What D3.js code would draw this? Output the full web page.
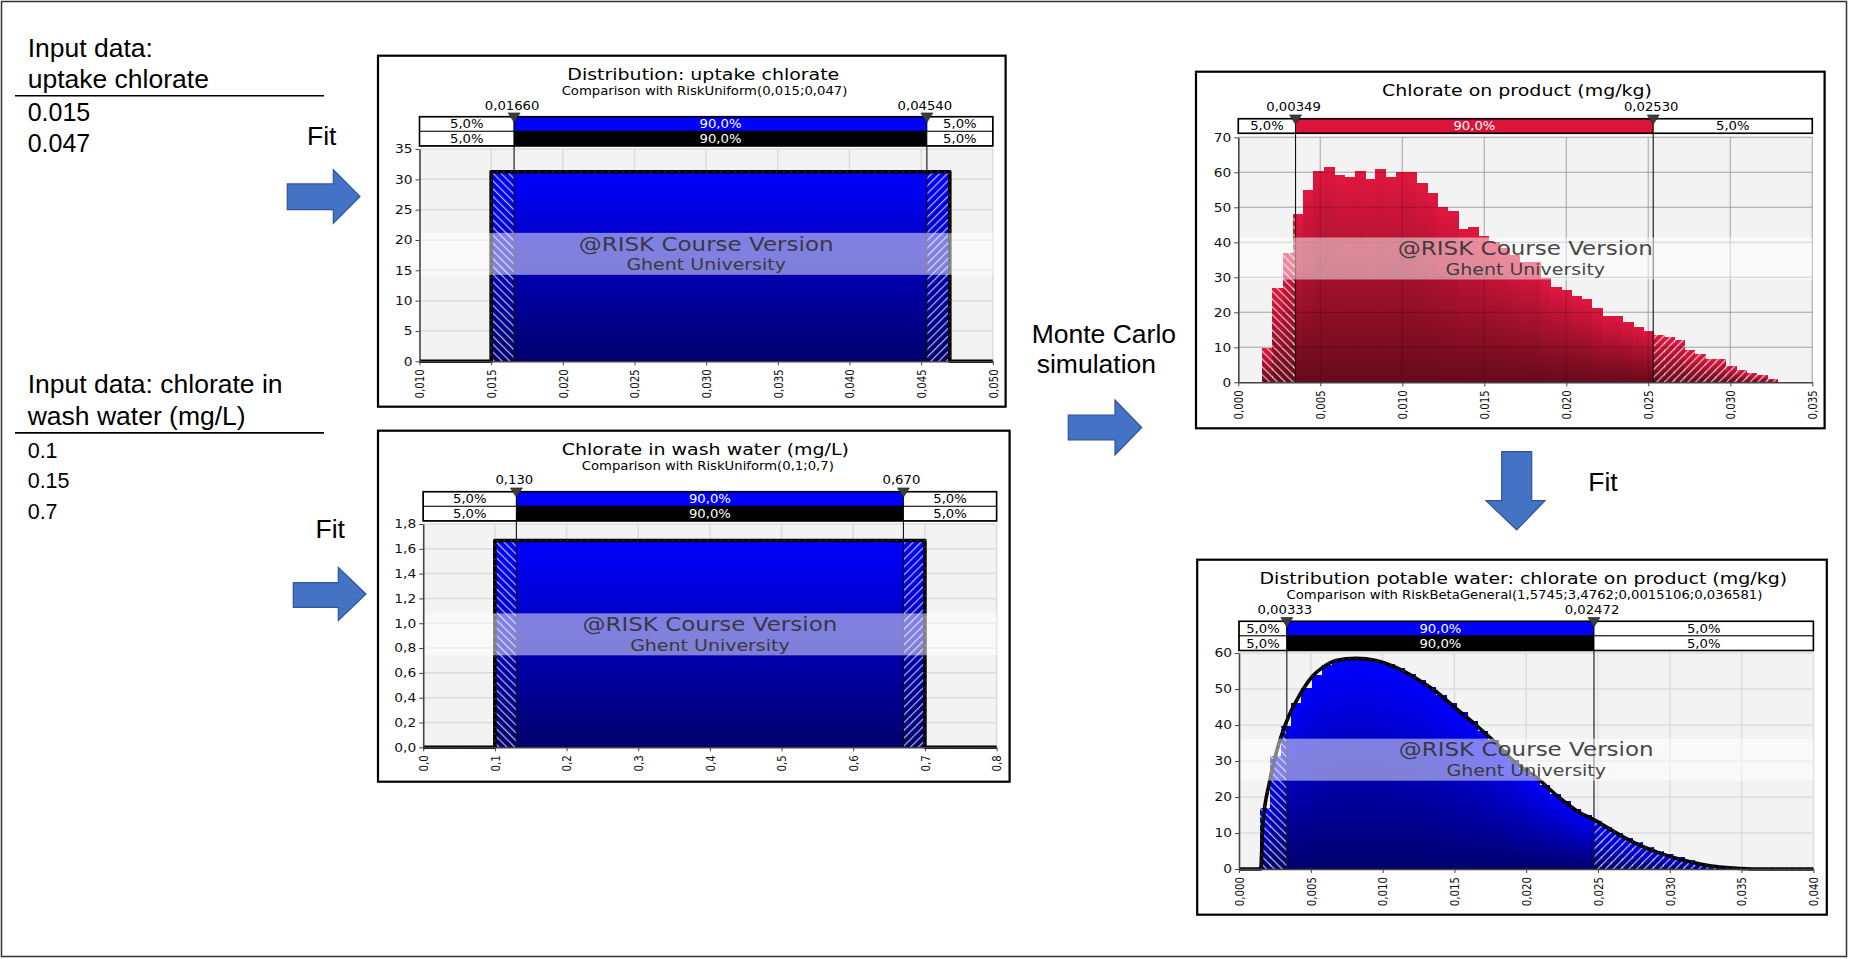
<!DOCTYPE html>
<html><head><meta charset="utf-8">
<script src="https://cdn.jsdelivr.net/npm/d3@7"></script>
<style>body{margin:0;background:#fff}svg{display:block}</style>
</head><body>
<svg id="c" width="1849" height="959"></svg>
<script>
// ================= DATA =================
// Panel 1: uptake chlorate (uniform fit)
const uptakeHist = [{x0:0.015, x1:0.047, y:31.3}];
const uptakeFit = [[0.010,0],[0.015,0],[0.015,31.25],[0.047,31.25],[0.047,0],[0.050,0]];
const uptakeMarkers = [0.0166, 0.0454];
const uptakeMarkerLabels = ["0,01660","0,04540"];
const uptakeXTicks = [0.010,0.015,0.020,0.025,0.030,0.035,0.040,0.045,0.050];
const uptakeXLabels = ["0,010","0,015","0,020","0,025","0,030","0,035","0,040","0,045","0,050"];
const uptakeYTicks = [0,5,10,15,20,25,30,35];
const uptakeYLabels = ["0","5","10","15","20","25","30","35"];

// Panel 2: chlorate in wash water (uniform fit)
const washHist = [{x0:0.1, x1:0.7, y:1.67}];
const washFit = [[0,0],[0.1,0],[0.1,1.667],[0.7,1.667],[0.7,0],[0.8,0]];
const washMarkers = [0.130, 0.670];
const washMarkerLabels = ["0,130","0,670"];
const washXTicks = [0,0.1,0.2,0.3,0.4,0.5,0.6,0.7,0.8];
const washXLabels = ["0,0","0,1","0,2","0,3","0,4","0,5","0,6","0,7","0,8"];
const washYTicks = [0,0.2,0.4,0.6,0.8,1.0,1.2,1.4,1.6,1.8];
const washYLabels = ["0,0","0,2","0,4","0,6","0,8","1,0","1,2","1,4","1,6","1,8"];

// Panel 3: chlorate on product (simulated histogram)
const productBinStart = 0.001445;
const productBinWidth = 0.000628;
const productHeights = [9.7,26.9,36.9,48,54.9,60.4,61.4,59.2,58.6,60.4,58.1,60.9,58.7,60,60,57,54.2,50.1,49,43.7,
  44.5,41.7,40.2,38.5,36.3,34.3,34.3,29.7,27.3,26.4,24.7,23.7,21.1,18.9,18.9,17.2,15.8,14.7,13.5,12.9,
  12.1,9.2,8,6.7,6.7,4.7,3.5,2.7,2,0.9];
const productMarkers = [0.00349, 0.02530];
const productMarkerLabels = ["0,00349","0,02530"];
const productXTicks = [0,0.005,0.010,0.015,0.020,0.025,0.030,0.035];
const productXLabels = ["0,000","0,005","0,010","0,015","0,020","0,025","0,030","0,035"];
const productYTicks = [0,10,20,30,40,50,60,70];
const productYLabels = ["0","10","20","30","40","50","60","70"];

// Panel 4: potable water fit (BetaGeneral)
const potableBinStart = 0.00145;
const potableBinWidth = 0.00072;
const potableHeights = [16.9,31.3,39.8,46.1,50.4,54,56.6,58,58.4,58.6,58.3,57.8,57,55.7,54.2,52.5,50.5,48.4,46,43.5,
  41,38.3,35.9,33,30.2,27.8,25.8,23.3,20.8,18.8,16.8,15,13.3,11.6,10.1,8.7,7.4,6.2,5.1,4.1,
  3.2,2.4,1.7,1.2,0.75,0.4,0.18,0.06,0.01];
const potableFit = [[0,0],[0.00151,0],[0.00165,11.9],[0.00211,23.9],[0.00258,32.1],[0.00304,38.1],[0.0035,42.8],
  [0.00397,46.5],[0.00444,49.8],[0.00513,53.6],[0.00583,56],[0.00675,57.9],[0.00815,58.5],[0.00954,57.9],
  [0.01093,56],[0.01233,53],[0.01372,49.3],[0.01511,44.6],[0.0165,40],[0.01767,35.8],[0.01929,29.4],
  [0.02068,25.5],[0.0222,20.2],[0.0236,16],[0.0248,13.5],[0.0265,9.5],[0.0279,6.6],[0.0293,4.4],
  [0.0307,2.7],[0.0321,1.4],[0.0335,0.56],[0.0349,0.15],[0.03658,0],[0.040,0]];
const potableMarkers = [0.00333, 0.02472];
const potableMarkerLabels = ["0,00333","0,02472"];
const potableXTicks = [0,0.005,0.010,0.015,0.020,0.025,0.030,0.035,0.040];
const potableXLabels = ["0,000","0,005","0,010","0,015","0,020","0,025","0,030","0,035","0,040"];
const potableYTicks = [0,10,20,30,40,50,60];
const potableYLabels = ["0","10","20","30","40","50","60"];

const rowLabels = ["5,0%","90,0%","5,0%"];

// ================= DRAWING =================
const SX = 1.15;
const FONT = "DejaVu Sans";
const svg = d3.select("#c");
svg.append("rect").attr("width",1849).attr("height",959).attr("fill","#fff");
const defs = svg.append("defs");

function vgrad(id, top, bottom){
  const lg = defs.append("linearGradient").attr("id",id).attr("x1",0).attr("y1",0).attr("x2",0).attr("y2",1);
  lg.append("stop").attr("offset","0%").attr("stop-color",top);
  lg.append("stop").attr("offset","100%").attr("stop-color",bottom);
}
vgrad("gBlue","#0000ff","#00006c");
vgrad("gRed","#e0173f","#660a1b");
function hatch(id, angle){
  const p = defs.append("pattern").attr("id",id).attr("patternUnits","userSpaceOnUse")
    .attr("width",5.5).attr("height",5.5).attr("patternTransform",`rotate(${angle})`);
  p.append("rect").attr("x",0).attr("y",0).attr("width",1.2).attr("height",5.5)
    .attr("fill","#fff").attr("fill-opacity",0.72);
}
hatch("hL",-45); hatch("hR",45);

function stext(g, x, y, str, size, o={}){
  return g.append("text")
    .attr("transform",`translate(${x},${y}) scale(${o.sx||SX},1)` + (o.rot?` rotate(${o.rot})`:""))
    .attr("font-family",o.family||FONT).attr("font-size",size)
    .attr("text-anchor",o.anchor||"middle").attr("fill",o.fill||"#000")
    .attr("fill-opacity",o.op==null?1:o.op)
    .text(str);
}

function binsFrom(start, width, heights){
  return heights.map((h,i)=>({x0:start+i*width, x1:start+(i+1)*width, y:h}));
}

function panel(c){
  const g = svg.append("g");
  const [fx0,fy0,fx1,fy1] = c.frame;
  g.append("rect").attr("x",fx0).attr("y",fy0).attr("width",fx1-fx0).attr("height",fy1-fy0)
    .attr("fill","#fff").attr("stroke","#000").attr("stroke-width",2.2);
  const P = c.plot;
  const x = d3.scaleLinear().domain(c.xDomain).range([P.left,P.right]);
  const y = d3.scaleLinear().domain(c.yDomain).range([P.bottom,P.top]);

  g.append("rect").attr("x",P.left).attr("y",P.top).attr("width",P.right-P.left).attr("height",P.bottom-P.top)
    .attr("fill","#f3f3f3");
  function grid(color, width){
    const gg = g.append("g").attr("stroke",color).attr("stroke-width",width);
    gg.selectAll("line.gx").data(c.xTicks.slice(1)).join("line").attr("class","gx")
      .attr("x1",d=>x(d)).attr("x2",d=>x(d)).attr("y1",P.top).attr("y2",P.bottom);
    gg.selectAll("line.gy").data(c.yTicks.slice(1)).join("line").attr("class","gy")
      .attr("x1",P.left).attr("x2",P.right).attr("y1",d=>y(d)).attr("y2",d=>y(d));
  }
  grid("#dcdcdc",1.5);

  // bars
  const barSel = (sel, fill) => sel.attr("shape-rendering","crispEdges").selectAll("rect").data(c.bins).join("rect")
    .attr("x",d=>x(d.x0)).attr("width",d=>x(d.x1)-x(d.x0)+0.9)
    .attr("y",d=>y(d.y)).attr("height",d=>y(0)-y(d.y)).attr("fill",fill);
  barSel(g.append("g"), `url(#${c.grad})`);
  const m0 = x(c.markers[0]), m1 = x(c.markers[1]);
  defs.append("clipPath").attr("id",c.id+"L").append("rect")
    .attr("x",P.left).attr("y",P.top-5).attr("width",m0-P.left).attr("height",P.bottom-P.top+5);
  defs.append("clipPath").attr("id",c.id+"R").append("rect")
    .attr("x",m1).attr("y",P.top-5).attr("width",P.right-m1).attr("height",P.bottom-P.top+5);
  barSel(g.append("g").attr("clip-path",`url(#${c.id}L)`), "url(#hL)");
  barSel(g.append("g").attr("clip-path",`url(#${c.id}R)`), "url(#hR)");

  if(c.gridOver) grid("rgba(0,0,0,0.16)",1.3);

  // fit curve
  if(c.fit){
    const line = d3.line().x(d=>x(d[0])).y(d=>y(d[1])).curve(c.smooth?d3.curveMonotoneX:d3.curveLinear);
    g.append("path").attr("d",line(c.fit)).attr("fill","none").attr("stroke","#000")
      .attr("stroke-width",3.6).attr("stroke-linejoin","round");
    g.append("path").attr("d",line(c.fit)).attr("fill","none").attr("stroke","#777")
      .attr("stroke-opacity",0.55).attr("stroke-width",0.9).attr("stroke-dasharray","2,5");
  }

  // marker lines
  [m0,m1].forEach(mx=>{
    g.append("line").attr("x1",mx).attr("x2",mx).attr("y1",c.rowTop).attr("y2",P.bottom)
      .attr("stroke","#111").attr("stroke-width",1.1);
  });

  // watermark
  const bt = (P.top+P.bottom)/2 - 1.3 - 21;
  g.append("rect").attr("x",P.left).attr("y",bt).attr("width",P.right-P.left).attr("height",42)
    .attr("fill","#fff").attr("fill-opacity",0.5);
  const cx = (P.left+P.right)/2;
  stext(g, cx, bt+17.7, "@RISK Course Version", 20, {fill:"#2e2e2e", op:0.9});
  stext(g, cx, bt+37.3, "Ghent University", 16.5, {fill:"#2e2e2e", op:0.9});

  // axes
  const ya = g.append("g").attr("transform",`translate(${P.left},0)`)
    .call(d3.axisLeft(y).tickValues(c.yTicks).tickFormat((d,i)=>c.yLabels[i]).tickSize(4).tickPadding(3).tickSizeOuter(0));
  ya.attr("font-family",FONT).attr("font-size",12).attr("color","#444");
  ya.select(".domain").attr("stroke-width",1.6);
  ya.selectAll(".tick text").each(function(){
    const t = d3.select(this); const xx = t.attr("x");
    t.attr("x",0).attr("transform",`translate(${xx},0) scale(${SX},1)`).attr("fill","#111");
  });
  const xa = g.append("g").attr("transform",`translate(0,${P.bottom})`)
    .call(d3.axisBottom(x).tickValues(c.xTicks).tickFormat((d,i)=>c.xLabels[i]).tickSize(4).tickPadding(4).tickSizeOuter(0));
  xa.attr("font-family",FONT).attr("font-size",10.2).attr("color","#444");
  xa.select(".domain").attr("stroke-width",1.6);
  xa.selectAll(".tick text").each(function(){
    const t = d3.select(this);
    t.attr("x",0).attr("y",0).attr("dy","0.36em").attr("text-anchor","end")
      .attr("transform",`translate(0,8) scale(${SX},1) rotate(-90)`).attr("fill","#111");
  });

  // titles
  stext(g, c.title.x, c.title.y, c.title.text, 16.5);
  if(c.subtitle) stext(g, c.subtitle.x, c.subtitle.y, c.subtitle.text, 11.5);

  // percentage rows
  c.rows.forEach((r,ri)=>{
    const top = c.rowTop + ri*c.rowH;
    const cells = [[P.left,m0,"#fff","#000"],[m0,m1,r,"#fff"],[m1,P.right,"#fff","#000"]];
    cells.forEach((cl,k)=>{
      g.append("rect").attr("x",cl[0]).attr("y",top).attr("width",cl[1]-cl[0]).attr("height",c.rowH)
        .attr("fill",cl[2]).attr("stroke","#000").attr("stroke-width",0.9);
      stext(g,(cl[0]+cl[1])/2, top+c.rowH/2+4.3, rowLabels[k], 11.5, {fill:cl[3]});
    });
  });
  g.append("rect").attr("x",P.left).attr("y",c.rowTop).attr("width",P.right-P.left)
    .attr("height",c.rows.length*c.rowH).attr("fill","none").attr("stroke","#000").attr("stroke-width",1.6);

  // marker triangles and labels
  [m0,m1].forEach((mx,k)=>{
    g.append("path").attr("d",`M${mx-6},${c.rowTop-3.8}L${mx+6},${c.rowTop-3.8}L${mx},${c.rowTop+5.6}Z`)
      .attr("fill","#3c3c3c").attr("stroke","#222").attr("stroke-width",0.6);
    stext(g, mx-2, c.markerLabelY, c.markerLabels[k], 11.5);
  });
}

panel({id:"p1", frame:[378,55.7,1005.6,406.7], plot:{left:419.5,right:992.8,top:149,bottom:361.3},
  xDomain:[0.010,0.050], yDomain:[0,35], xTicks:uptakeXTicks, xLabels:uptakeXLabels,
  yTicks:uptakeYTicks, yLabels:uptakeYLabels, bins:uptakeHist, fit:uptakeFit, smooth:false,
  markers:uptakeMarkers, markerLabels:uptakeMarkerLabels, grad:"gBlue",
  rows:["#0000ff","#000000"], rowTop:116.7, rowH:14.6, markerLabelY:109.5,
  title:{text:"Distribution: uptake chlorate", x:703.3, y:80},
  subtitle:{text:"Comparison with RiskUniform(0,015;0,047)", x:704.5, y:94.7}});

panel({id:"p2", frame:[378,430.7,1009.6,781.7], plot:{left:423.2,right:996.6,top:524,bottom:747.3},
  xDomain:[0,0.8], yDomain:[0,1.8], xTicks:washXTicks, xLabels:washXLabels,
  yTicks:washYTicks, yLabels:washYLabels, bins:washHist, fit:washFit, smooth:false,
  markers:washMarkers, markerLabels:washMarkerLabels, grad:"gBlue",
  rows:["#0000ff","#000000"], rowTop:491.7, rowH:14.6, markerLabelY:484.3,
  title:{text:"Chlorate in wash water (mg/L)", x:705.3, y:455},
  subtitle:{text:"Comparison with RiskUniform(0,1;0,7)", x:707.8, y:469.7}});

panel({id:"p3", frame:[1196,71.7,1824.6,428.3], plot:{left:1238.3,right:1812.3,top:137.3,bottom:382.3},
  xDomain:[0,0.035], yDomain:[0,70], xTicks:productXTicks, xLabels:productXLabels,
  yTicks:productYTicks, yLabels:productYLabels, bins:binsFrom(productBinStart,productBinWidth,productHeights),
  fit:null, markers:productMarkers, markerLabels:productMarkerLabels, grad:"gRed", gridOver:true,
  rows:["#dc143c"], rowTop:118.7, rowH:14.6, markerLabelY:110.9,
  title:{text:"Chlorate on product (mg/kg)", x:1517, y:96}});

panel({id:"p4", frame:[1197.2,559.7,1826.8,914.7], plot:{left:1239,right:1813.4,top:653,bottom:869},
  xDomain:[0,0.040], yDomain:[0,60], xTicks:potableXTicks, xLabels:potableXLabels,
  yTicks:potableYTicks, yLabels:potableYLabels, bins:binsFrom(potableBinStart,potableBinWidth,potableHeights),
  fit:potableFit, smooth:true, markers:potableMarkers, markerLabels:potableMarkerLabels, grad:"gBlue",
  rows:["#0000ff","#000000"], rowTop:621.3, rowH:14.6, markerLabelY:613.5,
  title:{text:"Distribution potable water: chlorate on product (mg/kg)", x:1523.3, y:584},
  subtitle:{text:"Comparison with RiskBetaGeneral(1,5745;3,4762;0,0015106;0,036581)", x:1524.5, y:598.7}});

// ================= LEFT TEXT, ARROWS =================
const L = svg.append("g").attr("font-family","Liberation Sans, Arial, sans-serif").attr("fill","#000");
function ltext(x,y,str,size){ L.append("text").attr("x",x).attr("y",y).attr("font-size",size).text(str); }
ltext(27.7,57.1,"Input data:",26.5);
ltext(27.7,87.5,"uptake chlorate",26.5);
L.append("line").attr("x1",15).attr("x2",324).attr("y1",95.7).attr("y2",95.7).attr("stroke","#000").attr("stroke-width",1.6);
ltext(27.7,121.4,"0.015",25);
ltext(27.7,151.8,"0.047",25);
ltext(307,144.6,"Fit",26.5);
ltext(27.7,392.9,"Input data: chlorate in",26.5);
ltext(27.7,425,"wash water (mg/L)",26.5);
L.append("line").attr("x1",15).attr("x2",324).attr("y1",432.9).attr("y2",432.9).attr("stroke","#000").attr("stroke-width",1.6);
ltext(27.7,457.9,"0.1",21.5);
ltext(27.7,488.2,"0.15",21.5);
ltext(27.7,518.6,"0.7",21.5);
ltext(315.5,537.5,"Fit",26.5);
ltext(1031.7,343.3,"Monte Carlo",26.5);
ltext(1036.7,373.3,"simulation",26.5);
ltext(1588.3,491,"Fit",26.5);

function arrowR(x0,xh,xt,sy0,sy1,hy0,hy1){
  const ty=(hy0+hy1)/2;
  svg.append("path").attr("d",`M${x0},${sy0}L${xh},${sy0}L${xh},${hy0}L${xt},${ty}L${xh},${hy1}L${xh},${sy1}L${x0},${sy1}Z`)
    .attr("fill","#4472c4").attr("stroke","#2f5597").attr("stroke-width",1.2);
}
arrowR(287.3,333.3,360,183.9,209.6,169.6,223.2);
arrowR(293.3,338.3,366,582.7,607.3,567.3,620.7);
arrowR(1068.3,1115,1141.7,415,440,400,455);
// down arrow
svg.append("path").attr("d",`M1501.7,451.7L1531.7,451.7L1531.7,500.7L1545,500.7L1516.7,530L1486,500.7L1501.7,500.7Z`)
  .attr("fill","#4472c4").attr("stroke","#2f5597").attr("stroke-width",1.2);

// outer frame
svg.append("rect").attr("x",1.5).attr("y",1.5).attr("width",1845).attr("height",955)
  .attr("fill","none").attr("stroke","#333").attr("stroke-width",1.5);
</script>
</body></html>
